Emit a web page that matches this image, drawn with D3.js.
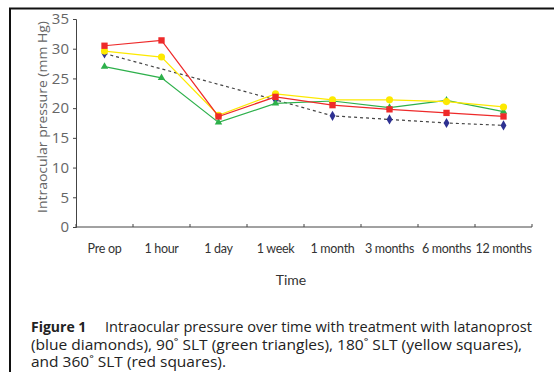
<!DOCTYPE html>
<html>
<head>
<meta charset="utf-8">
<script src="https://cdn.jsdelivr.net/npm/d3@7"></script>
<style>
  body { margin: 0; background: #fff; }
  svg { display: block; }
</style>
</head>
<body>
<svg id="canvas" width="554" height="372"></svg>
<script>
const times = ["Pre op", "1 hour", "1 day", "1 week", "1 month", "3 months", "6 months", "12 months"]
const yTicks = [0, 5, 10, 15, 20, 25, 30, 35]

// latanoprost, no readings at 1 hour / 1 day
const latanoprost = [29.2, null, null, 21.4, 18.7, 18.1, 17.5, 17.1]
const slt90 = [27.0, 25.1, 17.6, 20.8, 21.2, 20.1, 21.3, 19.4]
const slt180 = [29.6, 28.6, 18.8, 22.4, 21.4, 21.4, 21.1, 20.2]
const slt360 = [30.5, 31.4, 18.6, 21.9, 20.5, 19.8, 19.2, 18.6]

const captionTitle = "Figure 1"
const captionLines = [
  "Intraocular pressure over time with treatment with latanoprost",
  "(blue diamonds), 90\u02da SLT (green triangles), 180\u02da SLT (yellow squares),",
  "and 360\u02da SLT (red squares)."
]

const svg = d3.select("#canvas")
const font = "Lato, 'Liberation Sans', sans-serif"
const wide = "'Open Sans', Lato, sans-serif"

// figure frame
svg.append("path")
  .attr("d", "M10,372V8.5H554")
  .attr("fill", "none")
  .attr("stroke", "#111")
  .attr("stroke-width", 2)

const x = d3.scaleBand().domain(times).range([76, 532])
const y = d3.scaleLinear().domain([0, 35]).range([227, 19])
const cx = d => x(d) + x.bandwidth() / 2

// y axis
const gy = svg.append("g").attr("transform", "translate(76,0)")
  .call(d3.axisLeft(y).tickValues(yTicks).tickSize(3).tickPadding(4))
gy.select(".domain").attr("stroke", "#444")
gy.selectAll(".tick line").attr("stroke", "#444")
gy.selectAll(".tick text")
  .attr("font-family", wide).attr("font-size", 15).attr("fill", "#666")

// x axis with boundary ticks pointing up
const gx = svg.append("g").attr("transform", "translate(0,227)")
gx.append("line").attr("x1", 76).attr("x2", 532).attr("stroke", "#444")
const bounds = times.map(t => x(t)).concat([x.range()[1]])
gx.selectAll(".bt").data(bounds).enter().append("line")
  .attr("x1", d => d).attr("x2", d => d)
  .attr("y1", 0).attr("y2", -3)
  .attr("stroke", "#444")
gx.selectAll(".lab").data(times).enter().append("text")
  .attr("x", d => cx(d)).attr("y", 26)
  .attr("text-anchor", "middle")
  .attr("font-family", font).attr("font-size", 12.5).attr("fill", "#333")
  .attr("letter-spacing", -0.3)
  .text(d => d)

svg.append("text")
  .attr("x", 291).attr("y", 285)
  .attr("text-anchor", "middle")
  .attr("font-family", font).attr("font-size", 14).attr("fill", "#333")
  .text("Time")

svg.append("text")
  .attr("transform", "translate(47,117) rotate(-90)")
  .attr("text-anchor", "middle")
  .attr("font-family", wide).attr("font-size", 13.5).attr("fill", "#666")
  .attr("textLength", 192).attr("lengthAdjust", "spacingAndGlyphs")
  .text("Intraocular pressure (mm Hg)")

const series = [
  { name: "latanoprost", values: latanoprost, line: "#444", dash: "3,3", marker: d3.symbolDiamond, fill: "#2e3192", size: 30 },
  { name: "90 SLT", values: slt90, line: "#2db04b", dash: null, marker: d3.symbolTriangle, fill: "#2db04b", size: 24 },
  { name: "180 SLT", values: slt180, line: "#fde900", dash: null, marker: d3.symbolCircle, fill: "#fde900", size: 40 },
  { name: "360 SLT", values: slt360, line: "#ee2a2a", dash: null, marker: d3.symbolSquare, fill: "#ee2a2a", size: 40 }
]

const line = d3.line()
  .x(d => cx(d.t))
  .y(d => y(d.v))

series.forEach(s => {
  const present = times.map((t, i) => ({ t: t, v: s.values[i] })).filter(p => p.v != null)
  svg.append("path")
    .datum(present)
    .attr("d", line)
    .attr("fill", "none")
    .attr("stroke", s.line)
    .attr("stroke-width", 1.2)
    .attr("stroke-dasharray", s.dash)
  svg.selectAll(null).data(present).enter().append("path")
    .attr("transform", d => `translate(${cx(d.t)},${y(d.v)})`)
    .attr("d", d3.symbol().type(s.marker).size(s.size))
    .attr("fill", s.fill)
})

// caption, stretched to the widths of the printed lines
const cap = svg.append("g").attr("font-family", wide).attr("font-size", 14).attr("fill", "#222")
cap.append("text").attr("x", 31).attr("y", 332)
  .attr("font-weight", "bold").text(captionTitle)
const capX = [105, 31, 31]
const capW = [427, 491, 195]
captionLines.forEach((l, i) => {
  cap.append("text")
    .attr("x", capX[i]).attr("y", 332 + i * 17.5)
    .attr("textLength", capW[i]).attr("lengthAdjust", "spacingAndGlyphs")
    .text(l)
})
</script>
</body>
</html>
